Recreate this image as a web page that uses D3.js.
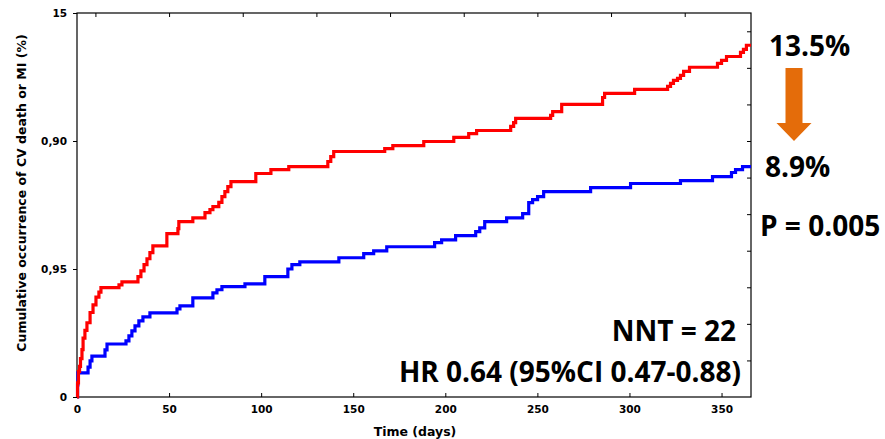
<!DOCTYPE html>
<html>
<head>
<meta charset="utf-8">
<script src="https://cdn.jsdelivr.net/npm/d3@7"></script>
<style>
  body { margin: 0; background: #fff; }
  svg { display: block; }
  .axis text { font-family: "DejaVu Sans", Verdana, sans-serif; font-weight: bold; font-size: 10.5px; fill: #000; }
  .axis path, .axis line { stroke: #000; }
  .note { font-family: "Open Sans", Lato, sans-serif; font-weight: bold; fill: #000; }
</style>
</head>
<body>
<svg id="chart" width="885" height="439"></svg>
<script>
// cumulative curves: [day, % after event]
const redSteps = [
  [0,0],[0.3,0.55],[0.8,1.0],[1.4,1.2],[1.9,1.5],[2.7,1.85],[3.3,2.3],[4.3,2.6],[5.4,2.9],
  [7.1,3.3],[8.7,3.6],[10.3,3.9],[11.9,4.1],[13.0,4.27],[22.8,4.38],[24.4,4.5],[33.1,4.7],
  [34.7,4.93],[36.4,5.17],[38.0,5.4],[39.6,5.64],[41.2,5.9],[48.8,6.38],[54.8,6.58],[55.3,6.85],
  [62.9,7.0],[69.5,7.2],[72.2,7.32],[73.8,7.44],[77,7.6],[78.7,7.83],[80.3,8.02],[81.9,8.22],
  [83.6,8.41],[97.1,8.73],[105.3,8.88],[115,9.0],[136.2,9.2],[137.8,9.39],[139.4,9.59],
  [167.1,9.7],[171.5,9.82],[188.3,9.98],[204.6,10.14],[212.7,10.29],[217,10.41],[235.5,10.57],
  [237.1,10.72],[238.2,10.88],[257.2,11.0],[258.3,11.15],[263.2,11.43],[285.4,11.7],[286.5,11.86],
  [302.8,12.02],[320.7,12.13],[322.3,12.25],[323.9,12.37],[326.1,12.45],[327.7,12.56],[329.4,12.72],
  [332.6,12.88],[347.8,13.03],[350,13.15],[352.7,13.3],[360.3,13.46],[361.9,13.58],[363.5,13.74],[366,13.74]
];
const blueSteps = [
  [0,0],[0.3,0.47],[0.5,0.94],[6.0,1.17],[7.1,1.41],[8.1,1.6],[15.2,1.84],[16.3,2.07],[26.6,2.19],
  [28.2,2.39],[29.8,2.58],[31.5,2.78],[33.6,2.97],[35.8,3.13],[39.6,3.29],[54.3,3.44],[55.9,3.56],
  [62.9,3.87],[73.8,4.07],[76,4.19],[78.7,4.31],[91.2,4.42],[102,4.7],[114.5,5.0],[116.7,5.17],
  [121,5.28],[142.2,5.44],[155.7,5.6],[161.1,5.71],[168.2,5.87],[194.2,6.03],[198,6.14],[205.6,6.3],
  [216.5,6.46],[218.7,6.61],[221.4,6.85],[233.3,7.0],[242,7.16],[245.3,7.59],[247.4,7.71],[250.1,7.83],
  [253.4,8.02],[278.9,8.18],[300.6,8.34],[327.7,8.45],[345.1,8.61],[355.4,8.77],[357.6,8.88],[361.4,9.0],[366,9.0]
];

const xTicks = [0, 50, 100, 150, 200, 250, 300, 350];
const xTopTicks = [10, 50, 90, 130, 170, 210, 250, 290, 330];
const yTicks = [0, 5, 10, 15];
const yTickLabels = ["0", "0,95", "0,90", "15"];
const yRightTicks = d3.range(1, 11).map(k => k * 10 / 7);

const notes = [
  {text: "13.5%", x: 769, y: 56, anchor: "start"},
  {text: "8.9%", x: 765, y: 177, anchor: "start"},
  {text: "P = 0.005", x: 760, y: 236, anchor: "start"},
  {text: "NNT = 22", x: 736, y: 341, anchor: "end"},
  {text: "HR 0.64 (95%CI 0.47-0.88)", x: 741, y: 382, anchor: "end"}
];

const svg = d3.select("#chart"),
      margin = {top: 13, right: 134, bottom: 42, left: 77},
      width = +svg.attr("width") - margin.left - margin.right,
      height = +svg.attr("height") - margin.top - margin.bottom;

const g = svg.append("g")
             .attr("transform", `translate(${margin.left},${margin.top})`);

const x = d3.scaleLinear().domain([0, 366]).range([0, width]);
const y = d3.scaleLinear().domain([0, 15]).range([height, 0]);

// frame
g.append("rect")
 .attr("width", width).attr("height", height)
 .attr("fill", "none").attr("stroke", "#000").attr("stroke-width", 1.2);

// bottom axis (ticks point inside)
const xAx = g.append("g").attr("class", "axis")
 .attr("transform", `translate(0,${height})`)
 .call(d3.axisBottom(x).tickValues(xTicks).tickSizeInner(-4).tickSizeOuter(0).tickPadding(9));
xAx.select(".domain").remove();

// top axis ticks
const tAx = g.append("g").attr("class", "axis")
 .call(d3.axisTop(x).tickValues(xTopTicks).tickSizeInner(-4).tickSizeOuter(0).tickFormat(""));
tAx.select(".domain").remove();

// left axis
const yAx = g.append("g").attr("class", "axis")
 .call(d3.axisLeft(y).tickValues(yTicks).tickSize(4).tickPadding(6)
   .tickFormat((d, i) => yTickLabels[i]));
yAx.select(".domain").remove();

// right axis ticks
const rAx = g.append("g").attr("class", "axis")
 .attr("transform", `translate(${width},0)`)
 .call(d3.axisRight(y).tickValues(yRightTicks).tickSizeInner(-4).tickSizeOuter(0).tickFormat(""));
rAx.select(".domain").remove();

// curves
const line = d3.line()
  .x(d => x(d[0]))
  .y(d => y(d[1]))
  .curve(d3.curveStepAfter);

g.append("path").datum(blueSteps)
 .attr("fill", "none").attr("stroke", "#0000ff").attr("stroke-width", 3.2)
 .attr("d", line);

g.append("path").datum(redSteps)
 .attr("fill", "none").attr("stroke", "#ff0000").attr("stroke-width", 3.2)
 .attr("d", line);

// axis titles
svg.append("text")
   .attr("x", margin.left + width / 2 + 1)
   .attr("y", 436)
   .attr("text-anchor", "middle")
   .style("font-family", "'DejaVu Sans', Verdana, sans-serif")
   .style("font-weight", "bold")
   .style("font-size", "12.5px")
   .text("Time (days)");

svg.append("text")
   .attr("transform", `translate(26,${193}) rotate(-90)`)
   .attr("text-anchor", "middle")
   .style("font-family", "'DejaVu Sans', Verdana, sans-serif")
   .style("font-weight", "bold")
   .style("font-size", "12.5px")
   .text("Cumulative occurrence of CV death or MI (%)");

// annotations
svg.selectAll("text.note")
   .data(notes)
   .enter().append("text")
     .attr("class", "note")
     .attr("x", d => d.x)
     .attr("y", d => d.y)
     .attr("text-anchor", d => d.anchor)
     .style("font-size", "28px")
     .text(d => d.text);

// orange arrow
const arrow = [[-8.5,0],[8.5,0],[8.5,55],[17.5,55],[0,73],[-17.5,55],[-8.5,55]];
svg.append("path")
   .attr("transform", "translate(794,68)")
   .attr("d", d3.line()(arrow) + "Z")
   .attr("fill", "#e46c0a");
</script>
</body>
</html>
